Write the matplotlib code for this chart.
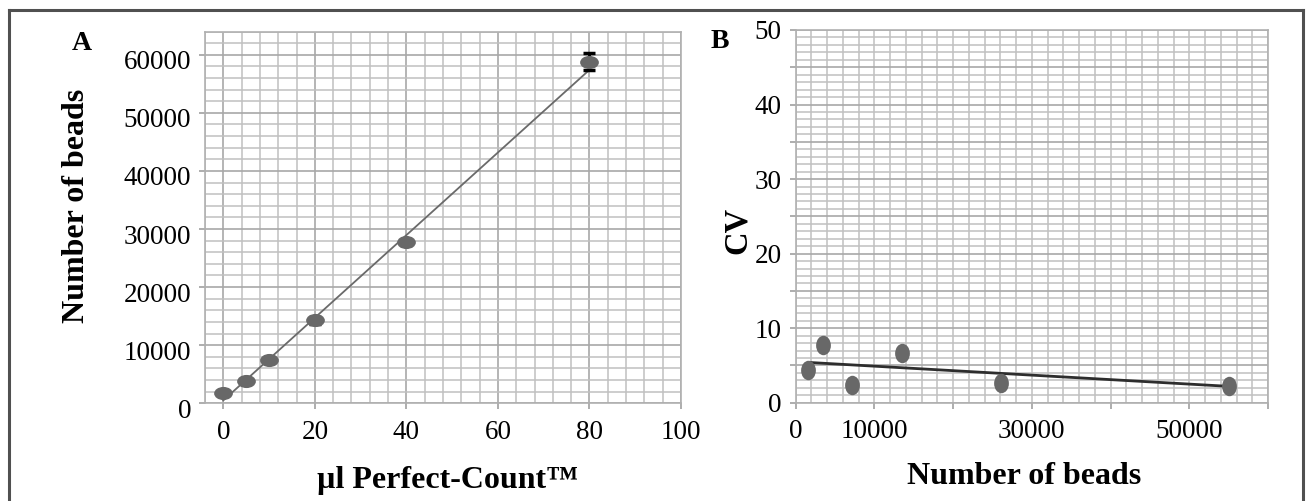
import numpy as np
import matplotlib
matplotlib.use("Agg")
import matplotlib.pyplot as plt
import matplotlib.transforms as mtransforms
from matplotlib.path import Path
from matplotlib.lines import Line2D

plt.rcParams['font.family'] = ['Liberation Serif', 'DejaVu Serif']

# Panel A: beads counted vs volume of Perfect-Count
vol_ul = [0, 5, 10, 20, 40, 80]
beads = [1800, 3800, 7450, 14300, 27700, 58800]
beads_err = [0, 0, 0, 600, 400, 1450]
fitA_x = [0, 80]
fitA_y = [500, 57400]

# Panel B: CV vs number of beads
nbeads = [1600, 3500, 7100, 13450, 26070, 55100]
cv = [4.4, 7.7, 2.4, 6.7, 2.7, 2.3]
fitB_x = [1700, 54900]
fitB_y = [5.4, 2.2]

xticksB = [0, 10000, 20000, 30000, 40000, 50000, 60000]
xlabelsB = ['0', '10000', '', '30000', '', '50000', '']

GRID_MINOR = '#c0c0c0'
GRID_MAJOR = '#a8a8a8'
MARKER = '#686868'

circ = Path.unit_circle()
ell_wide = Path(circ.vertices * [1.0, 0.7], circ.codes)
ell_tall = Path(circ.vertices * [0.76, 1.0], circ.codes)

W, H = 1310, 501
fig = plt.figure(figsize=(W / 100, H / 100), dpi=100)
axA = fig.add_axes([205 / W, 1 - 403.3 / H, 476 / W, 371.8 / H])
axB = fig.add_axes([795.7 / W, 1 - 402.7 / H, 472.3 / W, 372.7 / H])


def style_axes(ax):
    ax.set_axisbelow(True)
    ax.grid(True, which='minor', color=GRID_MINOR, linewidth=1.1)
    ax.grid(True, which='major', color=GRID_MAJOR, linewidth=1.2)
    for s in ax.spines.values():
        s.set_color('#b0b0b0')
        s.set_linewidth(1.2)
    ax.tick_params(which='major', direction='out', length=4, width=1.2,
                   color='#a0a0a0', labelsize=19.5, pad=6)
    ax.tick_params(axis='x', pad=8)
    ax.tick_params(which='minor', length=0)


# ---- panel A
axA.set_xlim(-4, 100)
axA.set_ylim(0, 64000)
axA.set_xticks(np.arange(0, 101, 20))
axA.set_xticks(np.arange(-4, 101, 4), minor=True)
axA.set_yticks(np.arange(0, 60001, 10000))
axA.set_yticks(np.arange(0, 64001, 2000), minor=True)
style_axes(axA)

# y labels of panel A sit a little below their gridlines
shift = mtransforms.ScaledTranslation(0, -5 / 100, fig.dpi_scale_trans)
for lab in axA.get_yticklabels():
    lab.set_transform(lab.get_transform() + shift)

axA.plot(fitA_x, fitA_y, color='#6a6a6a', linewidth=1.3, zorder=3)
axA.errorbar(vol_ul, beads, yerr=beads_err, fmt='none', ecolor='black',
             elinewidth=2, capsize=4.5, capthick=2.5, zorder=4)
axA.plot(vol_ul, beads, linestyle='none', marker=ell_wide, markersize=13.5,
         color=MARKER, markeredgewidth=0, zorder=5)

axA.set_xlabel('µl Perfect-Count™', fontsize=23, fontweight='bold')
axA.set_ylabel('Number of beads', fontsize=23, fontweight='bold')
axA.xaxis.label.set_va('center')
axA.yaxis.label.set_va('center')
axA.xaxis.set_label_coords((448 - 205) / 476, -(480 - 403.3) / 371.8)
axA.yaxis.set_label_coords((77 - 205) / 476, (403.3 - 206) / 371.8)

# ---- panel B
axB.set_xlim(0, 60000)
axB.set_ylim(0, 50)
axB.set_xticks(xticksB)
axB.set_xticklabels(xlabelsB)
axB.set_xticks(np.arange(0, 60001, 2000), minor=True)
axB.set_yticks(np.arange(0, 51, 5))
axB.set_yticklabels([str(v) if v % 10 == 0 else '' for v in range(0, 51, 5)])
axB.set_yticks(np.arange(0, 51, 1), minor=True)
style_axes(axB)
axB.grid(True, which='major', axis='x', color=GRID_MINOR, linewidth=1.1)

axB.plot(fitB_x, fitB_y, color='#2e2e2e', linewidth=2, zorder=3)
axB.plot(nbeads, cv, linestyle='none', marker=ell_tall, markersize=14,
         color=MARKER, markeredgewidth=0, zorder=5)

axB.set_xlabel('Number of beads', fontsize=23, fontweight='bold')
axB.set_ylabel('CV', fontsize=23.5, fontweight='bold')
axB.xaxis.label.set_va('center')
axB.yaxis.label.set_va('center')
axB.xaxis.set_label_coords((1024 - 795.7) / 472.3, -(477 - 402.7) / 372.7)
axB.yaxis.set_label_coords((737 - 795.7) / 472.3, (402.7 - 230) / 372.7)

# panel letters
fig.text(82 / W, 1 - 43 / H, 'A', fontsize=20, fontweight='bold',
         ha='center', va='center')
fig.text(720 / W, 1 - 42 / H, 'B', fontsize=20, fontweight='bold',
         ha='center', va='center')

# outer frame
fx0, fx1 = 9 / W, 1303 / W
fy1 = 1 - 10 / H
for xs, ys in [([fx0, fx1], [fy1, fy1]), ([fx0, fx0], [0, fy1]), ([fx1, fx1], [0, fy1])]:
    fig.add_artist(Line2D(xs, ys, color='#505050', linewidth=2.2,
                          transform=fig.transFigure))

fig.savefig('out.png', dpi=100)
